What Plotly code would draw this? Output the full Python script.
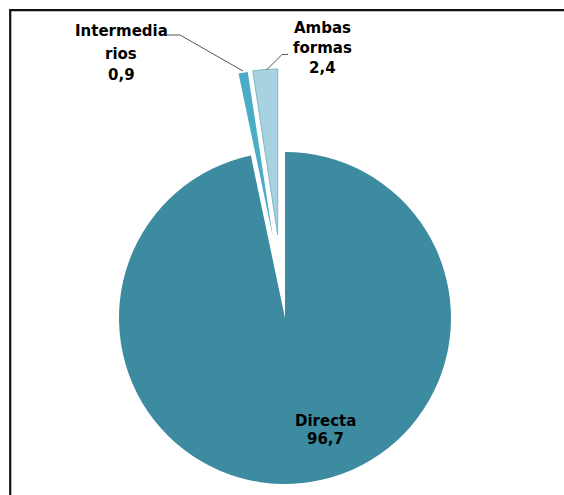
import plotly.graph_objects as go

# ---- data ----
categories = ["Directa", "Intermediarios", "Ambas formas"]
values = [96.7, 0.9, 2.4]
label_lines = [["Directa"], ["Intermedia", "rios"], ["Ambas", "formas"]]
colors = ["#3D8BA1", "#4BACC6", "#A9D2E0"]
edge_colors = ["#3D8BA1", "#4BACC6", "#7DB6C9"]

# ---- layout constants (pixels) ----
W, H = 564, 495
R = 166
# slice apex (pie centre) for each slice: main slice unexploded, small ones exploded
centers = [(285.0, 318.0), (272.7, 236.0), (277.7, 235.0)]
# label line centres: (x, [y per line])
label_pos = [(325, [421.2, 438.8]), (121, [31.0, 53.5, 75.0]), (322, [27.8, 47.8, 67.8])]
FONT = "DejaVu Sans"


def px(x):
    return x / W


def py(y):
    return 1 - y / H


fig = go.Figure()
for i, (cx, cy) in enumerate(centers):
    cols = ["rgba(0,0,0,0)"] * len(values)
    lcols = ["rgba(0,0,0,0)"] * len(values)
    lw = [0] * len(values)
    cols[i] = colors[i]
    lcols[i] = edge_colors[i]
    lw[i] = 1 if i == 2 else 0
    fig.add_trace(go.Pie(
        labels=categories, values=values, sort=False, direction="clockwise", rotation=0,
        marker=dict(colors=cols, line=dict(color=lcols, width=lw)),
        textinfo="none", hoverinfo="skip", showlegend=False,
        domain=dict(x=[px(cx - R), px(cx + R)], y=[py(cy + R), py(cy - R)]),
    ))

annotations = []
for i, (lx, ys) in enumerate(label_pos):
    lines = label_lines[i] + [f"{values[i]:.1f}".replace(".", ",")]
    for t, y in zip(lines, ys):
        annotations.append(dict(
            x=px(lx), y=py(y), xref="paper", yref="paper", text=f"<b>{t}</b>",
            showarrow=False, xanchor="center", yanchor="middle",
            font=dict(family=FONT, size=15, color="#000000"),
        ))

def path(points):
    return "M " + " L ".join(f"{px(x)},{py(y)}" for x, y in points)

shapes = [
    # leader lines
    dict(type="path", xref="paper", yref="paper", path=path([(167, 35), (180, 35), (243, 71)]),
         line=dict(color="#555555", width=1)),
    dict(type="path", xref="paper", yref="paper", path=path([(288, 54.5), (282, 54.5), (266.5, 70)]),
         line=dict(color="#555555", width=1)),
    # chart frame (left and top edges visible)
    dict(type="line", xref="paper", yref="paper", x0=px(10.2), y0=py(10.2), x1=px(10.2), y1=py(500),
         line=dict(color="#111111", width=2.2)),
    dict(type="line", xref="paper", yref="paper", x0=px(9.1), y0=py(10.2), x1=px(564), y1=py(10.2),
         line=dict(color="#111111", width=2.2)),
]

fig.update_layout(
    width=W, height=H, margin=dict(l=0, r=0, t=0, b=0),
    paper_bgcolor="white", plot_bgcolor="white",
    annotations=annotations, shapes=shapes,
)
fig.write_html(
    "out.html",
    config={"displayModeBar": False},
    post_script=(
        "document.body.style.margin='0';document.body.style.overflow='hidden';"
        "document.documentElement.style.overflow='hidden';"
    ),
)
